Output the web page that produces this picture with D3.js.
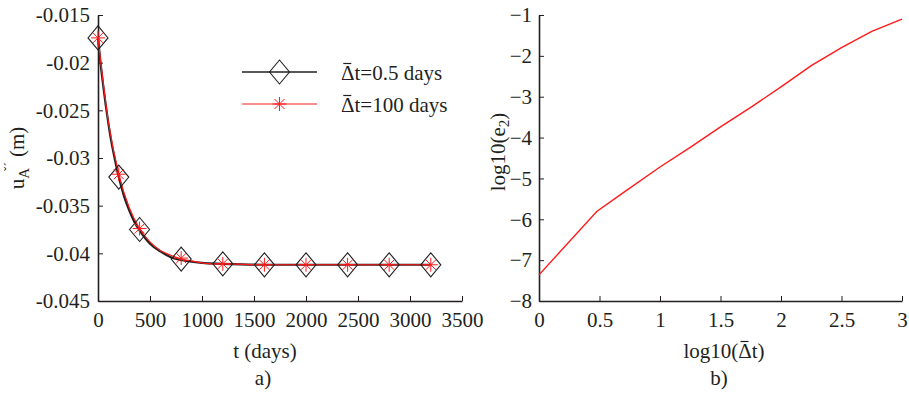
<!DOCTYPE html>
<html><head><meta charset="utf-8"><script src="https://cdn.jsdelivr.net/npm/d3@7"></script></head>
<body style="margin:0">
<svg id="chart" width="909" height="399"></svg>
<script>
// ---- Panel a): displacement history for two time steps ----
const tFine = [0, 25, 50, 75, 100, 125, 150, 200, 250, 300, 350, 400, 500, 600, 700, 800, 1000, 1200, 1600, 2000, 2400, 2800, 3200];
const uFine = [-0.0174, -0.0201, -0.0224, -0.0245, -0.0264, -0.0281, -0.0295, -0.0320, -0.0340, -0.0355, -0.0367, -0.0376, -0.0390, -0.0398, -0.0404, -0.0407, -0.0410, -0.0411, -0.0412, -0.0412, -0.0412, -0.0412, -0.0412];

const tCoarse = [0, 100, 200, 300, 400, 500, 600, 700, 800, 900, 1000, 1100, 1200, 1600, 2000, 2400, 2800, 3200];
const uCoarse = [-0.0174, -0.0262, -0.0317, -0.0352, -0.0374, -0.0388, -0.0397, -0.0402, -0.0406, -0.0408, -0.0410, -0.0411, -0.0411, -0.0412, -0.0412, -0.0412, -0.0412, -0.0412];

const tMarks = [0, 200, 400, 800, 1200, 1600, 2000, 2400, 2800, 3200];
const uMarksFine = [-0.0174, -0.0320, -0.0375, -0.0406, -0.0411, -0.0412, -0.0412, -0.0412, -0.0412, -0.0412];
const uMarksCoarse = [-0.0174, -0.0317, -0.0374, -0.0405, -0.0411, -0.0412, -0.0412, -0.0412, -0.0412, -0.0412];

const tTicks = [0, 500, 1000, 1500, 2000, 2500, 3000, 3500];
const uTicks = [-0.045, -0.04, -0.035, -0.03, -0.025, -0.02, -0.015];
const uTickLabels = ["-0.045", "-0.04", "-0.035", "-0.03", "-0.025", "-0.02", "-0.015"];

// ---- Panel b): error against time step (log-log) ----
const logDt = [0, 0.477, 0.7, 1.0, 1.25, 1.5, 1.75, 2.0, 2.25, 2.5, 2.75, 3.0];
const logErr = [-7.36, -5.81, -5.34, -4.72, -4.24, -3.74, -3.26, -2.76, -2.24, -1.80, -1.40, -1.10];
const xbTicks = [0, 0.5, 1, 1.5, 2, 2.5, 3];
const xbTickLabels = ["0", "0.5", "1", "1.5", "2", "2.5", "3"];
const ybTicks = [-8, -7, -6, -5, -4, -3, -2, -1];

const FONT = '"Liberation Serif"';
const FS = 21;
const INK = "#231f20";
const RED = "#ff1a1a";
const svg = d3.select("#chart");

function setFont(sel, size) {
  return sel.style("font-family", FONT).attr("font-size", size || FS).attr("fill", INK);
}

function label(sel, x, y, str, anchor) {
  return setFont(sel.append("text").attr("x", x).attr("y", y)
    .attr("text-anchor", anchor || "middle")).text(str);
}

function styleAxis(g) {
  g.select(".domain").attr("stroke", INK).attr("stroke-width", 1.6);
  g.selectAll(".tick line").attr("stroke", INK).attr("stroke-width", 1);
  setFont(g.selectAll(".tick text"));
}

// Text containing a Delta with a short bar above it
function barredText(sel, x, y, anchor, before, after) {
  const t = label(sel, x, y, before + "\u0394" + after, anchor);
  const ext = t.node().getExtentOfChar(before.length);
  const cx = ext.x + ext.width / 2;
  sel.append("line")
    .attr("x1", cx - 4.5).attr("x2", cx + 3.5)
    .attr("y1", ext.y + 2.5).attr("y2", ext.y + 2.5)
    .attr("stroke", INK).attr("stroke-width", 1.2);
  return t;
}

// ===== Panel a =====
const xa = d3.scaleLinear().domain([0, 3500]).range([98, 462]);
const ya = d3.scaleLinear().domain([-0.045, -0.015]).range([301, 15]);

svg.append("g").attr("transform", "translate(0,301)")
  .call(d3.axisBottom(xa).tickValues(tTicks).tickFormat(d3.format("d"))
        .tickSizeInner(-5).tickSizeOuter(0).tickPadding(11))
  .call(styleAxis);
svg.append("g").attr("transform", "translate(98,0)")
  .call(d3.axisLeft(ya).tickValues(uTicks).tickFormat((d, i) => uTickLabels[i])
        .tickSizeInner(-5).tickSizeOuter(0).tickPadding(8))
  .call(styleAxis);

const lineA = d3.line().x(d => xa(d[0])).y(d => ya(d[1])).curve(d3.curveMonotoneX);

svg.append("path")
  .datum(tFine.map((t, i) => [t, uFine[i]]))
  .attr("d", lineA).attr("fill", "none").attr("stroke", INK).attr("stroke-width", 2.2);
svg.append("path")
  .datum(tCoarse.map((t, i) => [t, uCoarse[i]]))
  .attr("d", lineA).attr("fill", "none").attr("stroke", RED).attr("stroke-width", 1.2);

function diamond(sel, cx, cy) {
  sel.append("path")
    .attr("d", `M${cx},${cy - 12}L${cx + 10},${cy}L${cx},${cy + 12}L${cx - 10},${cy}Z`)
    .attr("fill", "none").attr("stroke", INK).attr("stroke-width", 1.1);
}
function asterisk(sel, cx, cy) {
  const r = 7, d = 5;
  const p = `M${cx},${cy - r}L${cx},${cy + r}M${cx - r},${cy}L${cx + r},${cy}` +
            `M${cx - d},${cy - d}L${cx + d},${cy + d}M${cx - d},${cy + d}L${cx + d},${cy - d}`;
  sel.append("path").attr("d", p).attr("fill", "none").attr("stroke", RED).attr("stroke-width", 1);
}

const markG = svg.append("g");
tMarks.forEach((t, i) => diamond(markG, xa(t), ya(uMarksFine[i])));
tMarks.forEach((t, i) => asterisk(markG, xa(t), ya(uMarksCoarse[i])));

// Legend
const lg = svg.append("g");
lg.append("line").attr("x1", 242).attr("x2", 317).attr("y1", 72).attr("y2", 72)
  .attr("stroke", INK).attr("stroke-width", 1.6);
diamond(lg, 279.5, 72);
lg.append("line").attr("x1", 242).attr("x2", 317).attr("y1", 104).attr("y2", 104)
  .attr("stroke", RED).attr("stroke-width", 1.2);
asterisk(lg, 279.5, 104);
barredText(lg, 341, 80, "start", "", "t=0.5 days");
barredText(lg, 341, 112, "start", "", "t=100 days");

// Axis titles
label(svg, 265, 358, "t (days)");
label(svg, 263, 385, "a)");

const yLabA = setFont(svg.append("text").attr("transform", "translate(24,158) rotate(-90)")
  .attr("text-anchor", "middle"));
yLabA.append("tspan").text("u");
yLabA.append("tspan").attr("font-size", 15).attr("dy", 5).text("A");
yLabA.append("tspan").attr("font-size", 13).attr("dx", -3).attr("dy", -16).text("\u02c7\u02ca");
yLabA.append("tspan").attr("dy", 11).text("\u00a0(m)");

// ===== Panel b =====
const xb = d3.scaleLinear().domain([0, 3]).range([539, 902]);
const yb = d3.scaleLinear().domain([-8, -1]).range([301, 15]);

svg.append("g").attr("transform", "translate(0,301)")
  .call(d3.axisBottom(xb).tickValues(xbTicks).tickFormat((d, i) => xbTickLabels[i])
        .tickSizeInner(-5).tickSizeOuter(0).tickPadding(11))
  .call(styleAxis);
svg.append("g").attr("transform", "translate(539,0)")
  .call(d3.axisLeft(yb).tickValues(ybTicks).tickFormat(d3.format("d"))
        .tickSizeInner(-5).tickSizeOuter(0).tickPadding(7))
  .call(styleAxis);

const lineB = d3.line().x((d, i) => xb(d)).y((d, i) => yb(logErr[i]));
svg.append("path").datum(logDt).attr("d", lineB)
  .attr("fill", "none").attr("stroke", RED).attr("stroke-width", 1.4);

barredText(svg, 724, 358, "middle", "log10(", "t)");
label(svg, 719, 385, "b)");

const yLabB = setFont(svg.append("text").attr("transform", "translate(505,152) rotate(-90)")
  .attr("text-anchor", "middle"));
yLabB.append("tspan").text("log10(e");
yLabB.append("tspan").attr("font-size", 15).attr("dy", 4).text("2");
yLabB.append("tspan").attr("dy", -4).text(")");
</script>
</body></html>
